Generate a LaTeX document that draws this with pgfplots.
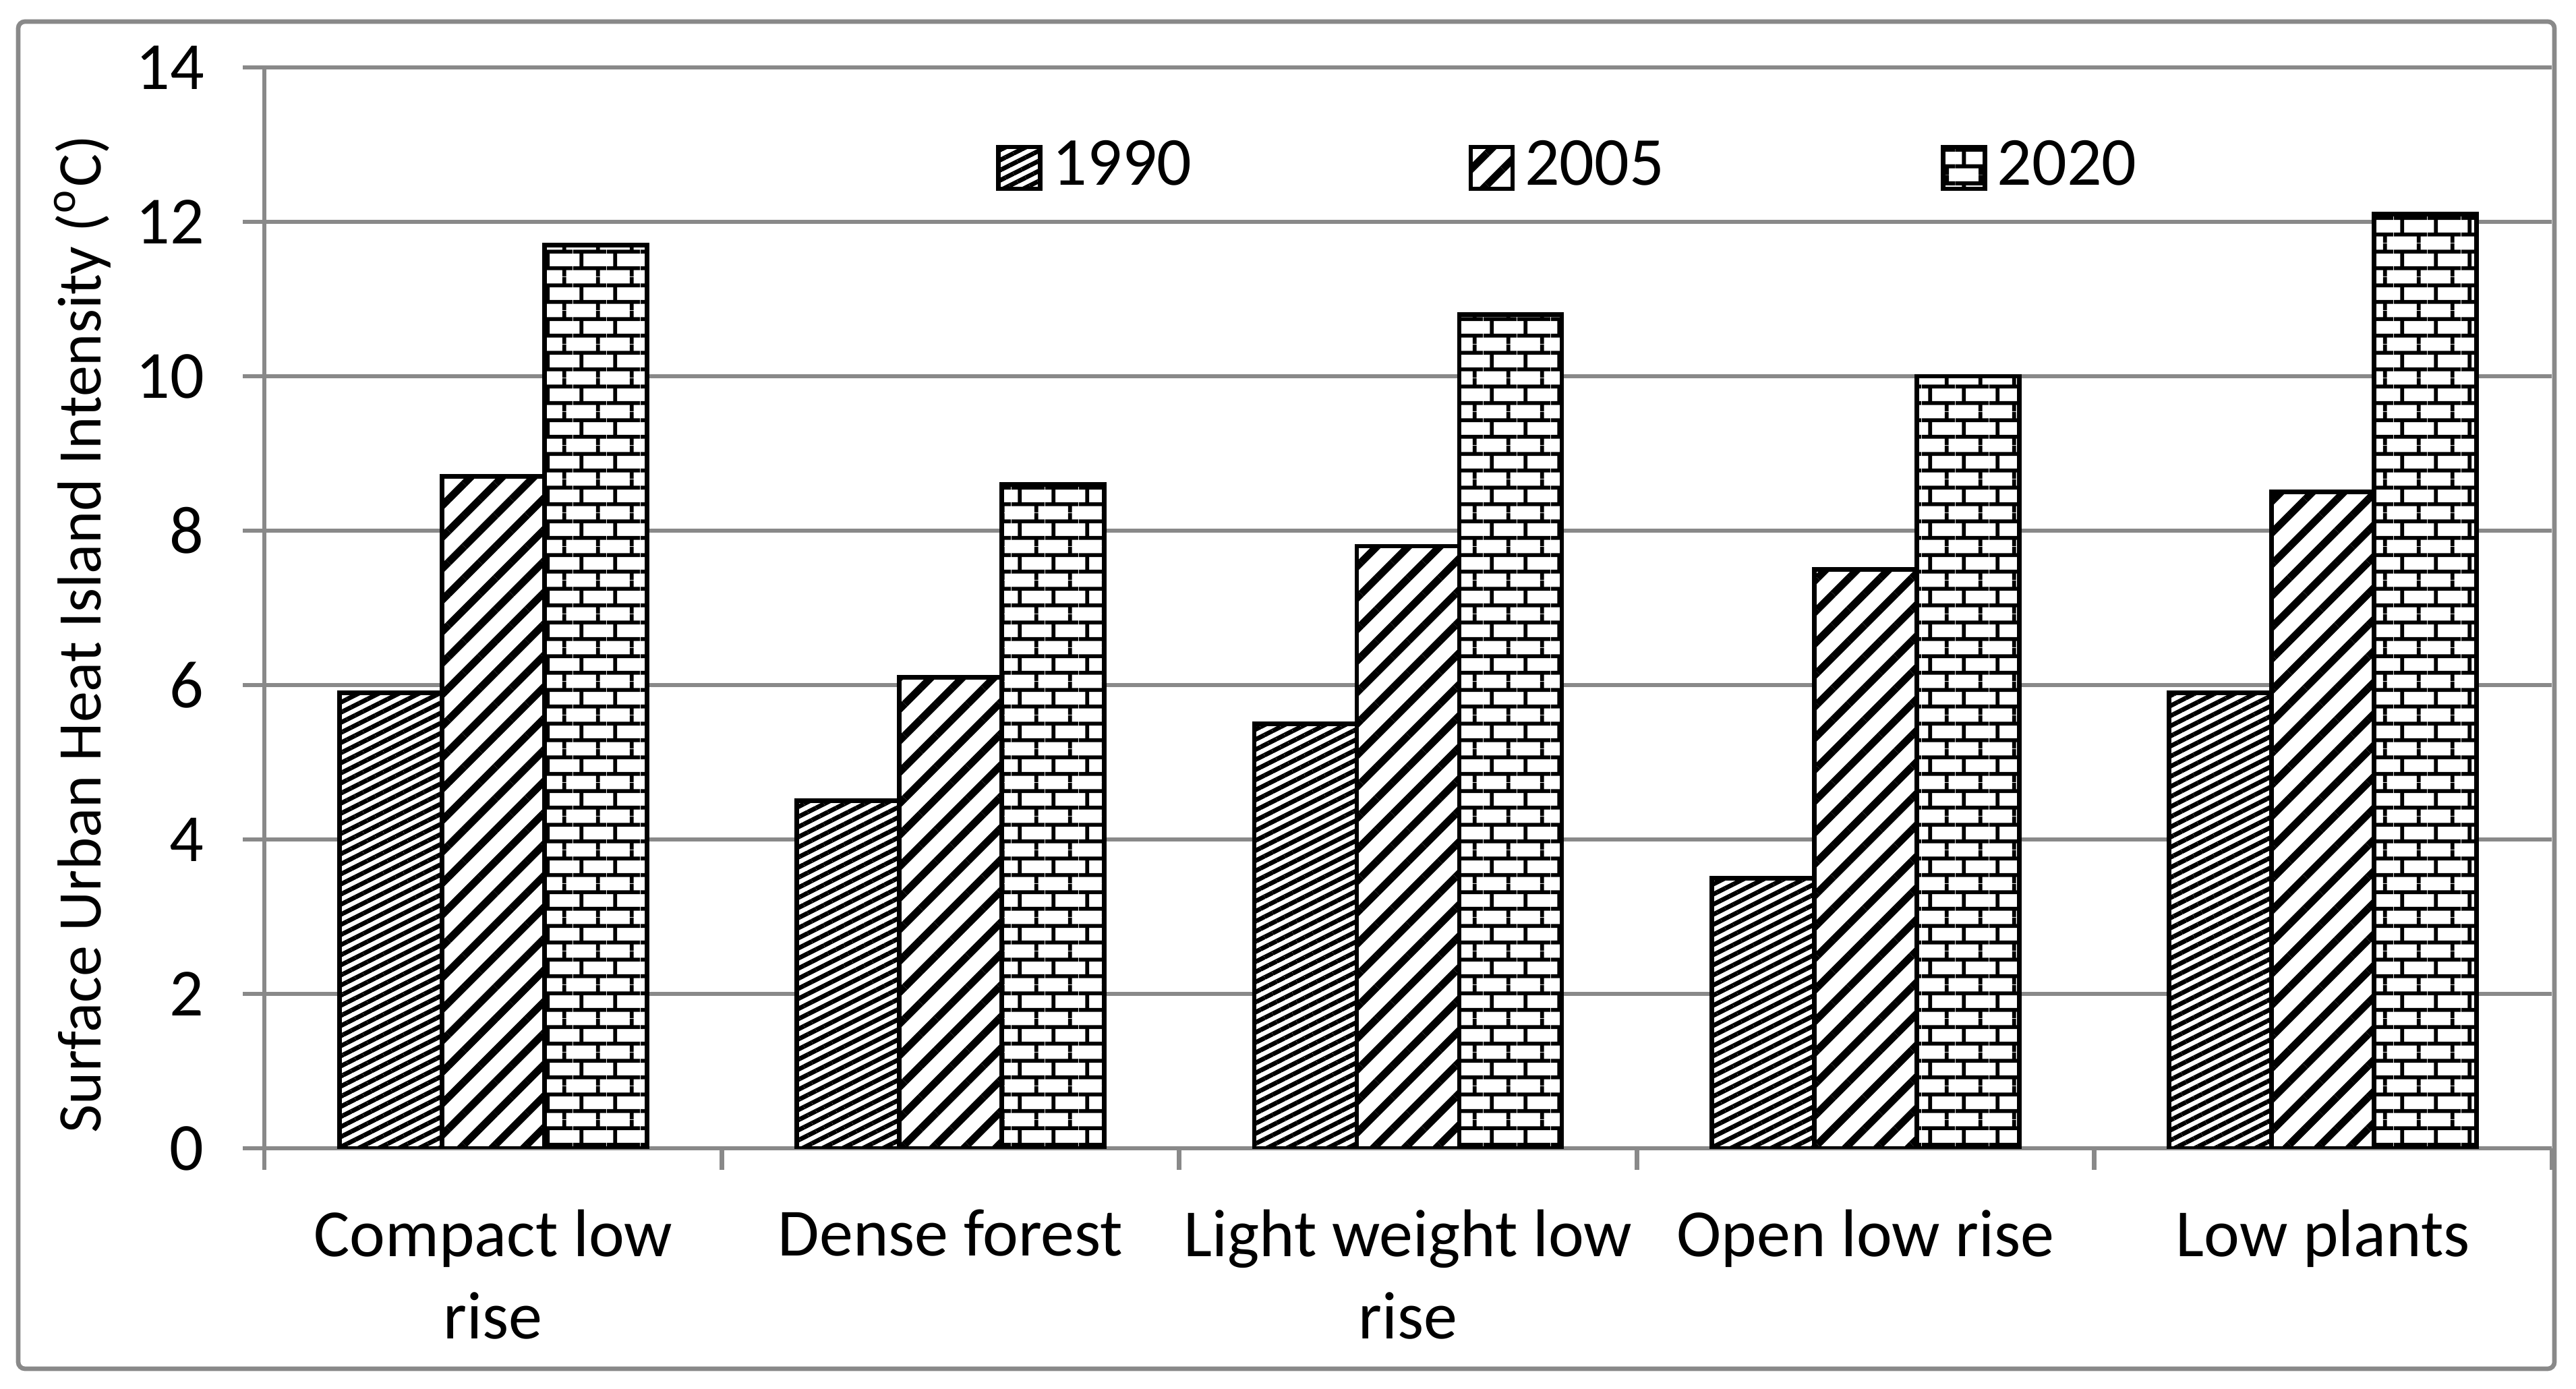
\documentclass[border=0pt]{standalone}
\usepackage{fontspec}
\setmainfont{Carlito}
\usepackage{pgfplots}
\pgfplotsset{compat=1.18}
\usetikzlibrary{patterns.meta}
\definecolor{axgray}{RGB}{137,137,137}

\tikzdeclarepattern{
  name=bricks,
  type=uncolored,
  bounding box={(0pt,0pt) and (5pt,5pt)},
  tile size={(5pt,5pt)},
  code={
    \draw[line width=0.6pt] (0pt,1.25pt) -- (5pt,1.25pt);
    \draw[line width=0.6pt] (0pt,3.75pt) -- (5pt,3.75pt);
    \draw[line width=0.6pt] (1.25pt,1.25pt) -- (1.25pt,3.75pt);
    \draw[line width=0.6pt] (3.75pt,3.75pt) -- (3.75pt,5pt);
    \draw[line width=0.6pt] (3.75pt,0pt) -- (3.75pt,1.25pt);
  }
}

\pgfplotsset{
  mylegend/.style={legend image code/.code={\draw[##1] (0pt,-3.1pt) rectangle (6.2pt,3.1pt);}},
}

\begin{document}
\begin{tikzpicture}[x=1pt,y=1pt]
\path (0,0) rectangle (382,205.9);
\draw[axgray, line width=0.67pt, rounded corners=1pt] (2.7,2.9) rectangle (378.8,202.7);
\begin{axis}[
  at={(39.2pt,35.6pt)}, anchor=south west,
  scale only axis, width=339.2pt, height=160.3pt,
  xmin=-0.5, xmax=4.5, ymin=0, ymax=14,
  enlarge x limits=false,
  ytick={0,2,...,14},
  xtick={-0.5,0.5,1.5,2.5,3.5,4.5},
  xticklabels={Compact low\\rise, Dense forest, Light weight low\\rise, Open low rise, Low plants},
  x tick label as interval,
  xticklabel style={align=center, font=\fontsize{10}{12.2}\selectfont, yshift=-2.4pt},
  yticklabel style={font=\fontsize{10}{12}\selectfont, xshift=-2.2pt},
  /pgf/number format/assume math mode=true,
  axis x line*=bottom, axis y line*=left,
  axis line style={axgray, line width=0.67pt},
  tick align=outside, major tick length=3.2pt,
  tick style={axgray, line width=0.67pt},
  ymajorgrids, grid style={axgray, line width=0.67pt},
  ybar=0pt, bar width=15.2pt,
  ylabel={Surface Urban Heat Island Intensity (\textsuperscript{o}C)},
  ylabel style={font=\fontsize{9.2}{11}\selectfont, at={(axis description cs:-0.0796,0.4757)}, anchor=center},
  legend columns=3,
  legend style={draw=none, fill=none, at={(0.3193,0.907)}, anchor=west, inner sep=0pt,
    font=\fontsize{10.2}{12}\selectfont,
    nodes={inner xsep=1.5pt, inner ysep=0pt},
    /tikz/every even column/.append style={column sep=39.5pt}},
]
\addplot[draw=black, line width=0.67pt, fill=white,
  postaction={pattern={Lines[angle=26.6,distance=1.34pt,line width=0.67pt]}}, mylegend]
  coordinates {(0,5.9) (1,4.5) (2,5.5) (3,3.5) (4,5.9)};
\addplot[draw=black, line width=0.67pt, fill=white,
  postaction={pattern={Lines[angle=45,distance=3.3pt,line width=1.1pt]}}, mylegend]
  coordinates {(0,8.7) (1,6.1) (2,7.8) (3,7.5) (4,8.5)};
\addplot[draw=black, line width=0.67pt, fill=white,
  postaction={pattern=bricks, pattern color=black}, mylegend]
  coordinates {(0,11.7) (1,8.6) (2,10.8) (3,10.0) (4,12.1)};
\legend{1990,2005,2020}
\end{axis}
\end{tikzpicture}
\end{document}
